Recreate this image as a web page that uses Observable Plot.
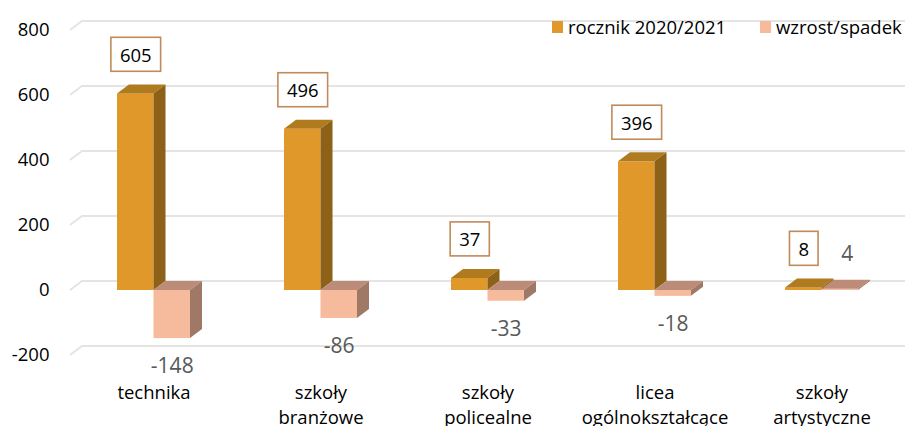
<!DOCTYPE html>
<html>
<head>
<meta charset="utf-8">
<script src="https://cdn.jsdelivr.net/npm/d3@7"></script>
<script src="https://cdn.jsdelivr.net/npm/@observablehq/plot@0.6"></script>
<style>
  body { margin: 0; background: #fff; }
  #wrap { position: relative; width: 909px; height: 426px; font-family: "Open Sans", sans-serif; }
  .leg { position: absolute; top: 16px; font-size: 18.5px; line-height: 22px; color: #000; display: flex; align-items: center; white-space: nowrap; }
  .sw { width: 11px; height: 12px; margin-right: 5px; }
</style>
</head>
<body>
<div id="wrap"></div>
<script>
// ---- data ----
const categories = ["technika", "szkoły branżowe", "szkoły policealne", "licea ogólnokształcące", "szkoły artystyczne"];
const categoryLabels = ["technika", "szkoły\nbranżowe", "szkoły\npolicealne", "licea\nogólnokształcące", "szkoły\nartystyczne"];
const values2021 = [605, 496, 37, 396, 8];
const changes = [-148, -86, -33, -18, 4];
const yTicks = [-200, 0, 200, 400, 600, 800];
const seriesNames = ["rocznik 2020/2021", "wzrost/spadek"];

// ---- styles ----
const FRONT = ["#E0982A", "#F6BA9C"];
const TOP = ["#B07A1F", "#BD8C78"];
const SIDE = ["#8E6118", "#A07866"];
const DX = 12, DY = 9;
const NS = "http://www.w3.org/2000/svg";

const rows2021 = categories.map((c, i) => ({cat: c, value: values2021[i]}));
const rowsChange = categories.map((c, i) => ({cat: c, value: changes[i]}));

function bar3d(k) {
  return (index, scales, values, dims, ctx, next) => {
    const g = next(index, scales, values, dims, ctx);
    for (const r of Array.from(g.querySelectorAll("rect"))) {
      const x = +r.getAttribute("x"), y = +r.getAttribute("y");
      const w = +r.getAttribute("width"), h = +r.getAttribute("height");
      const top = document.createElementNS(NS, "polygon");
      top.setAttribute("points", `${x},${y} ${x + DX},${y - DY} ${x + w + DX},${y - DY} ${x + w},${y}`);
      top.setAttribute("fill", TOP[k]);
      const side = document.createElementNS(NS, "polygon");
      side.setAttribute("points", `${x + w},${y} ${x + w + DX},${y - DY} ${x + w + DX},${y + h - DY} ${x + w},${y + h}`);
      side.setAttribute("fill", SIDE[k]);
      r.after(top, side);
    }
    return g;
  };
}

function gridRender(index, scales, values, dims) {
  const g = d3.create("svg:g").attr("fill", "none").attr("stroke", "#E4E4E4").attr("stroke-width", 2);
  for (const i of index) {
    const y = values.y[i];
    g.append("path").attr("d", `M${dims.marginLeft},${y}L${dims.marginLeft + DX},${y - DY}H${dims.width - dims.marginRight}`);
  }
  return g.node();
}

function tag(cls) {
  return (index, scales, values, dims, ctx, next) => {
    const g = next(index, scales, values, dims, ctx);
    g.setAttribute("class", cls);
    return g;
  };
}

const BAND = (909 - 70 - 4) / categories.length;
const BW = 36.5;
const OUT = (BAND - 2 * BW) / 2;

const chart = Plot.plot({
  width: 909,
  height: 426,
  marginLeft: 70,
  marginRight: 4,
  marginTop: 30,
  marginBottom: 71,
  style: {fontFamily: "Open Sans, sans-serif", fontSize: "18px", color: "#000", background: "#fff"},
  x: {type: "band", domain: categories, padding: 0, axis: null},
  y: {domain: [-200, 800], axis: null},
  marks: [
    Plot.ruleY(yTicks, {render: gridRender}),
    Plot.axisY(yTicks, {tickSize: 0, tickPadding: 21, tickFormat: d => String(d), label: null, fontSize: 18.5, fill: "#000"}),
    Plot.barY(rows2021, {x: "cat", y: "value", fill: FRONT[0], insetLeft: OUT, insetRight: BAND - OUT - BW, render: bar3d(0)}),
    Plot.barY(rowsChange, {x: "cat", y: "value", fill: FRONT[1], insetLeft: OUT + BW, insetRight: OUT, render: bar3d(1)}),
    Plot.text(rows2021, {x: "cat", y: "value", text: d => String(d.value), dx: -BW / 2, dy: -38, fill: "#000", fontSize: 18.5, render: tag("vlabels")}),
    Plot.text(rowsChange, {filter: d => d.value < 0, x: "cat", y: "value", text: d => String(d.value), dx: BW / 2, dy: 28, fill: "#595959", fontSize: 21}),
    Plot.text(rowsChange, {filter: d => d.value >= 0, x: "cat", y: "value", text: d => String(d.value), dx: BW / 2 + 7, dy: -35, fill: "#595959", fontSize: 21}),
    Plot.text(categories, {x: d => d, text: (d, i) => categoryLabels[i], frameAnchor: "bottom", lineAnchor: "top", dy: 25, lineHeight: 1.37, fontSize: 18.5, fill: "#000"})
  ]
});

const wrap = document.getElementById("wrap");
wrap.append(chart);

// boxes around the 2020/2021 value labels
d3.select(chart).selectAll(".vlabels text").each(function () {
  const b = this.getBBox();
  const rect = document.createElementNS(NS, "rect");
  const cy = b.y + b.height / 2;
  rect.setAttribute("x", b.x - 9);
  rect.setAttribute("y", cy - 17);
  rect.setAttribute("width", b.width + 18);
  rect.setAttribute("height", 34);
  rect.setAttribute("fill", "#fff");
  rect.setAttribute("stroke", "#C08A5A");
  rect.setAttribute("stroke-width", 1.6);
  const tr = this.getAttribute("transform");
  if (tr) rect.setAttribute("transform", tr);
  this.parentNode.insertBefore(rect, this);
});

// legend (overlay, top right)
const legendPos = [552, 760];
seriesNames.forEach((name, i) => {
  const item = document.createElement("div");
  item.className = "leg";
  item.style.left = legendPos[i] + "px";
  const sw = document.createElement("span");
  sw.className = "sw";
  sw.style.background = FRONT[i];
  const t = document.createElement("span");
  t.textContent = name;
  item.append(sw, t);
  wrap.append(item);
});
</script>
</body>
</html>
